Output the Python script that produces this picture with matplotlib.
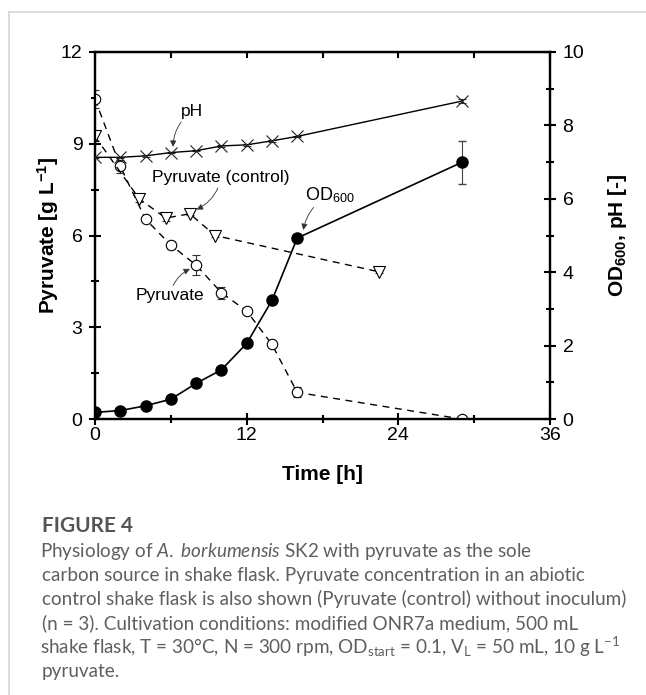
import matplotlib
matplotlib.use("Agg")
import matplotlib.pyplot as plt
from matplotlib.ticker import MultipleLocator
from matplotlib.lines import Line2D

plt.rcParams['font.family'] = ['Liberation Sans', 'DejaVu Sans']
plt.rcParams['mathtext.fontset'] = 'custom'
plt.rcParams['mathtext.rm'] = 'Lato'
plt.rcParams['mathtext.it'] = 'Lato:italic'
plt.rcParams['mathtext.bf'] = 'Liberation Sans:bold'
plt.rcParams['mathtext.sf'] = 'Liberation Sans'

# OD600 (right axis)
t_od = [0, 2, 4, 6, 8, 10, 12, 14, 16, 29]
od = [0.18, 0.23, 0.36, 0.54, 0.97, 1.34, 2.06, 3.23, 4.93, 6.99]
od_err = [0.03, 0.03, 0.03, 0.04, 0.05, 0.06, 0.08, 0.1, 0.1, 0.58]

# pH (right axis)
t_ph = [0, 2, 4, 6, 8, 10, 12, 14, 16, 29]
ph = [7.13, 7.13, 7.17, 7.26, 7.31, 7.44, 7.47, 7.58, 7.70, 8.66]
ph_err = [0.02, 0.02, 0.02, 0.02, 0.02, 0.02, 0.02, 0.02, 0.02, 0.06]

# Pyruvate (left axis)
t_pyr = [0, 2, 4, 6, 8, 10, 12, 14, 16, 29]
pyr = [10.46, 8.26, 6.53, 5.69, 5.03, 4.13, 3.53, 2.44, 0.87, 0.0]
pyr_err = [0.3, 0.22, 0.05, 0.12, 0.33, 0.2, 0.05, 0.1, 0.16, 0.02]

# Pyruvate control, no inoculum (left axis)
t_ctrl = [0, 3.5, 5.6, 7.5, 9.5, 22.5]
ctrl = [9.24, 7.2, 6.57, 6.71, 6.0, 4.81]
ctrl_err = [0.15, 0.1, 0.08, 0.05, 0.05, 0.05]

W, H = 646, 695
fig = plt.figure(figsize=(W / 100, H / 100), dpi=100)
ax = fig.add_axes([95 / W, 1 - 419 / H, 455 / W, 367 / H])
ax2 = ax.twinx()

dash = (0, (5, 4))
ax.errorbar(t_pyr, pyr, yerr=pyr_err, color='black', ls=dash, lw=1.0,
            marker='o', ms=7.5, mfc='white', mec='black', mew=0.8,
            ecolor='#333333', elinewidth=0.8, capsize=3, zorder=3)
ax.errorbar(t_ctrl, ctrl, yerr=ctrl_err, color='black', ls=dash, lw=1.0,
            marker='v', ms=8, mfc='white', mec='black', mew=0.8,
            ecolor='#333333', elinewidth=0.8, capsize=3, zorder=3)
ax2.errorbar(t_ph, ph, yerr=ph_err, color='black', ls='-', lw=1.0,
             marker='x', ms=8, mec='#222222', mew=0.8,
             ecolor='#333333', elinewidth=0.8, capsize=3, zorder=3)
ax2.errorbar(t_od, od, yerr=od_err, color='black', ls='-', lw=1.2,
             marker='o', ms=8, mfc='black', mec='black',
             ecolor='#444444', elinewidth=0.8, capsize=3, zorder=4)

ax.set_xlim(0, 36)
ax.set_ylim(0, 12)
ax2.set_ylim(0, 10)

ax.xaxis.set_major_locator(MultipleLocator(12))
ax.xaxis.set_minor_locator(MultipleLocator(6))
ax.yaxis.set_major_locator(MultipleLocator(3))
ax.yaxis.set_minor_locator(MultipleLocator(1.5))
ax2.yaxis.set_major_locator(MultipleLocator(2))
ax2.yaxis.set_minor_locator(MultipleLocator(1))

for a in (ax, ax2):
    for s in a.spines.values():
        s.set_linewidth(1.6)

ax.tick_params(axis='x', which='major', direction='inout', length=8, width=1.5,
               labelsize=14, pad=2, top=False)
ax.tick_params(axis='x', which='minor', direction='inout', length=6, width=1.5, top=False)
ax.tick_params(axis='y', which='major', direction='inout', length=8, width=1.5,
               labelsize=14, pad=5, right=False)
ax.tick_params(axis='y', which='minor', direction='inout', length=6, width=1.5, right=False)
ax2.tick_params(axis='y', which='major', direction='inout', length=8, width=1.5,
                labelsize=14, pad=5, left=False)
ax2.tick_params(axis='y', which='minor', direction='inout', length=6, width=1.5, left=False)

top = ax.secondary_xaxis('top')
top.xaxis.set_major_locator(MultipleLocator(6))
top.tick_params(direction='in', length=4, width=1.5, labeltop=False)

ax.set_xlabel('Time [h]', fontsize=15, fontweight='bold', labelpad=15)
ax.set_ylabel(r'Pyruvate [g L$^{\mathbf{-1}}$]', fontsize=15, fontweight='bold', labelpad=0)
ax2.set_ylabel(r'OD$_{\mathbf{600}}$, pH [-]', fontsize=15, fontweight='bold', labelpad=16)

arrow = dict(arrowstyle='-|>', color='#333333', lw=0.6, mutation_scale=9,
             shrinkA=0, shrinkB=0)
ax.annotate('pH', xy=(6.17, 8.9), xytext=(7.67, 10.05), fontsize=12.5,
            ha='center', va='center',
            arrowprops=dict(arrow, connectionstyle='arc3,rad=0.25'))
ax.annotate('Pyruvate (control)', xy=(8.04, 6.85), xytext=(9.97, 7.89), fontsize=12.5,
            ha='center', va='center',
            arrowprops=dict(arrow, connectionstyle='arc3,rad=-0.25'))
ax.annotate(r'OD$_{\mathsf{600}}$', xy=(16.48, 6.18), xytext=(18.6, 7.33), fontsize=13,
            ha='center', va='center',
            arrowprops=dict(arrow, connectionstyle='arc3,rad=0.25'))
ax.annotate('Pyruvate', xy=(7.51, 4.91), xytext=(5.93, 4.03), fontsize=12.5,
            ha='center', va='center',
            arrowprops=dict(arrow, connectionstyle='arc3,rad=-0.25'))

# light frame of the figure panel
fig.add_artist(Line2D([9 / W, 1], [1 - 12 / H, 1 - 12 / H], color='#d6d6d6', lw=1.2))
fig.add_artist(Line2D([9 / W, 9 / W], [0, 1 - 12 / H], color='#d6d6d6', lw=1.2))

# caption
cap_col = '#5f5f5f'
fig.text(42 / W, 1 - 526 / H, 'FIGURE 4', fontsize=15, fontweight='bold',
         family='Lato', color='#555555', va='center')
caption = [
    r'Physiology of $\it{A.\ borkumensis}$ SK2 with pyruvate as the sole',
    'carbon source in shake flask. Pyruvate concentration in an abiotic',
    'control shake flask is also shown (Pyruvate (control) without inoculum)',
    '(n = 3). Cultivation conditions: modified ONR7a medium, 500 mL',
    r'shake flask, T = 30°C, N = 300 rpm, OD$_{\mathrm{start}}$ = 0.1, V$_{\mathrm{L}}$ = 50 mL, 10 g L$^{\mathrm{-1}}$',
    'pyruvate.',
]
for i, line in enumerate(caption):
    x0 = 40.5 if '$' in line else 42
    fig.text(x0 / W, 1 - (551 + 24 * i) / H, line, fontsize=13.6, family='Lato',
             color=cap_col, va='center')

fig.savefig('out.png', dpi=100)
